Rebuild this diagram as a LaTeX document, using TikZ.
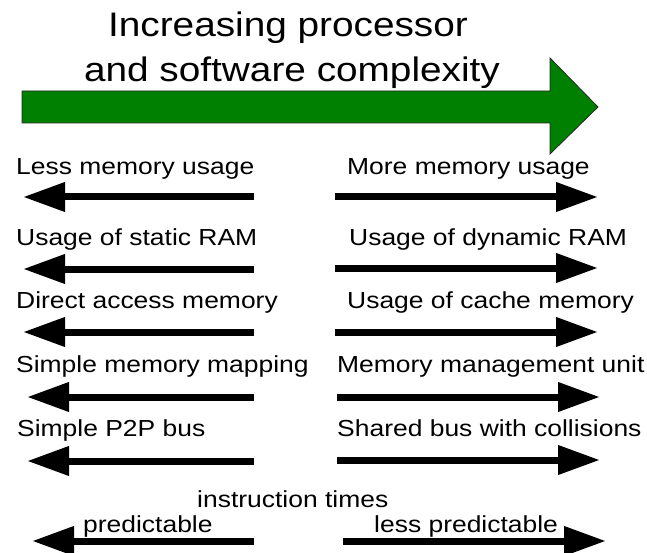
\documentclass[tikz,border=0pt]{standalone}
\usepackage{fontspec}
\setmainfont{Liberation Sans}[FakeStretch=1.14]
\usepackage{tikz}
\usetikzlibrary{arrows.meta,positioning}
\definecolor{complexgreen}{RGB}{0,128,0}
\tikzset{
      fatarrow/.style = {black, line width=7bp, -{Triangle[length=42bp,width=28bp]}},
      bigarrow/.style = {fill=complexgreen, draw=black!85, line width=0.8bp},
      txt/.style      = {anchor=base west, inner sep=0pt, font=\fontsize{23.2bp}{28bp}\selectfont},
      headtxt/.style  = {anchor=base, inner sep=0pt, font=\fontsize{34bp}{40bp}\selectfont},
    }

\begin{document}
\begin{tikzpicture}[x=1bp,y=-1bp]
        \useasboundingbox (0,0) rectangle (647,553);
        % title and the big arrow
        \node[headtxt] (head1) at (288,37) {Increasing processor};
        \node[headtxt] (head2) at (292,82) {and software complexity};
        \draw[bigarrow] (22,91) -- (550,91) -- (550,58) -- (598,107)
            -- (550,154) -- (550,123) -- (22,123) -- cycle;

        % labels
        \node[txt] (l1) at (16,175) {Less memory usage};
        \node[txt] (r1) at (347,175) {More memory usage};
        \node[txt] (l2) at (16,246) {Usage of static RAM};
        \node[txt] (r2) at (349,246) {Usage of dynamic RAM};
        \node[txt] (l3) at (16,308) {Direct access memory};
        \node[txt] (r3) at (347,308) {Usage of cache memory};
        \node[txt] (l4) at (16,372) {Simple memory mapping};
        \node[txt] (r4) at (337,372) {Memory management unit};
        \node[txt] (l5) at (17,436) {Simple P2P bus};
        \node[txt] (r5) at (337,436) {Shared bus with collisions};
        \node[txt] (mid6) at (197,507) {instruction times};
        \node[txt] (l6) at (83,532) {predictable};
        \node[txt] (r6) at (374,532) {less predictable};

        % arrow ends
        \coordinate (l1a) at (254,197); \coordinate (l1b) at (23,197);
        \coordinate (r1a) at (335,197); \coordinate (r1b) at (598,197);
        \coordinate (l2a) at (254,269); \coordinate (l2b) at (23,269);
        \coordinate (r2a) at (335,268); \coordinate (r2b) at (598,268);
        \coordinate (l3a) at (254,332); \coordinate (l3b) at (23,332);
        \coordinate (r3a) at (335,332); \coordinate (r3b) at (598,332);
        \coordinate (l4a) at (254,397); \coordinate (l4b) at (27,397);
        \coordinate (r4a) at (337,397); \coordinate (r4b) at (600,397);
        \coordinate (l5a) at (254,461); \coordinate (l5b) at (27,461);
        \coordinate (r5a) at (337,460); \coordinate (r5b) at (600,460);
        \coordinate (l6a) at (254,541); \coordinate (l6b) at (32,541);
        \coordinate (r6a) at (343,541); \coordinate (r6b) at (606,541);

        \draw[fatarrow] (l1a) -- (l1b);
        \draw[fatarrow] (r1a) -- (r1b);
        \draw[fatarrow] (l2a) -- (l2b);
        \draw[fatarrow] (r2a) -- (r2b);
        \draw[fatarrow] (l3a) -- (l3b);
        \draw[fatarrow] (r3a) -- (r3b);
        \draw[fatarrow] (l4a) -- (l4b);
        \draw[fatarrow] (r4a) -- (r4b);
        \draw[fatarrow] (l5a) -- (l5b);
        \draw[fatarrow] (r5a) -- (r5b);
        \draw[fatarrow] (l6a) -- (l6b);
        \draw[fatarrow] (r6a) -- (r6b);
\end{tikzpicture}
\end{document}
